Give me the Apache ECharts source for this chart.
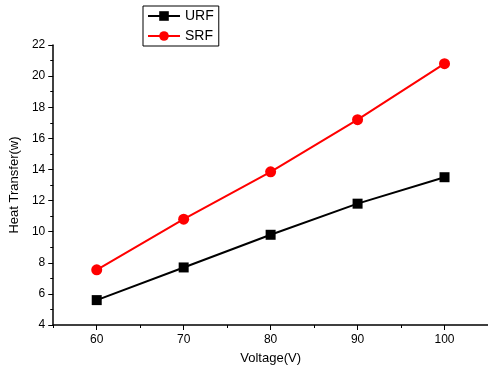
<!DOCTYPE html>
<html>
<head>
<meta charset="utf-8">
<script src="https://cdn.jsdelivr.net/npm/echarts@6/dist/echarts.min.js"></script>
<style>
html, body { margin: 0; padding: 0; background: #fff; }
#chart { width: 488px; height: 376px; }
</style>
</head>
<body>
<div id="chart"></div>
<script>
// data
var voltage = [60, 70, 80, 90, 100];
var urf = [5.6, 7.7, 9.8, 11.8, 13.5];
var srf = [7.55, 10.8, 13.85, 17.2, 20.8];
var xMajor = [60, 70, 80, 90, 100];
var xMinor = [55, 65, 75, 85, 95, 105];

function pairs(xs, ys) {
    var list = [];
    for (var i = 0; i < xs.length; i++) {
        list.push([xs[i], ys[i]]);
    }
    return list;
}

var myChart = echarts.init(document.getElementById('chart'));
var font = 'Liberation Sans, Arial, sans-serif';

var option = {
    animation: false,
    backgroundColor: '#fff',
    textStyle: { fontFamily: font },
    grid: { left: 53, right: 0, top: 45, bottom: 51 },
    legend: {
        left: 143,
        top: 6,
        orient: 'vertical',
        borderColor: '#000',
        borderWidth: 1,
        padding: [3, 5, 3, 4],
        itemGap: 6,
        itemWidth: 32,
        itemHeight: 12,
        textStyle: { color: '#000', fontSize: 14, fontFamily: font },
        data: ['URF', 'SRF']
    },
    xAxis: [{
        type: 'value',
        min: 55,
        max: 105,
        interval: 5,
        name: 'Voltage(V)',
        nameLocation: 'middle',
        nameGap: 27,
        nameTextStyle: { color: '#000', fontSize: 13 },
        axisLine: { lineStyle: { color: '#000', width: 1.5 } },
        axisTick: { show: true, length: 5, customValues: xMajor, lineStyle: { color: '#000' } },
        axisLabel: { color: '#000', fontSize: 12, margin: 9, customValues: xMajor },
        splitLine: { show: false }
    }, {
        type: 'value',
        position: 'bottom',
        min: 55,
        max: 105,
        interval: 5,
        axisLine: { show: false },
        axisTick: { show: true, length: 3, customValues: xMinor, lineStyle: { color: '#000' } },
        axisLabel: { show: false },
        splitLine: { show: false }
    }],
    yAxis: {
        type: 'value',
        min: 4,
        max: 22,
        interval: 2,
        name: 'Heat Transfer(w)',
        nameLocation: 'middle',
        nameGap: 32,
        nameTextStyle: { color: '#000', fontSize: 13 },
        axisLine: { show: true, lineStyle: { color: '#000', width: 1.5 } },
        axisTick: { show: true, length: 5, lineStyle: { color: '#000' } },
        minorTick: { show: true, splitNumber: 2, length: 3, lineStyle: { color: '#000' } },
        axisLabel: { color: '#000', fontSize: 12, margin: 8 },
        splitLine: { show: false }
    },
    series: [{
        name: 'URF',
        type: 'line',
        data: pairs(voltage, urf),
        symbol: 'rect',
        symbolSize: 10,
        color: '#000',
        lineStyle: { color: '#000', width: 2 },
        itemStyle: { color: '#000' }
    }, {
        name: 'SRF',
        type: 'line',
        data: pairs(voltage, srf),
        symbol: 'circle',
        symbolSize: 11,
        color: '#ff0000',
        lineStyle: { color: '#ff0000', width: 2 },
        itemStyle: { color: '#ff0000' }
    }]
};

myChart.setOption(option);
</script>
</body>
</html>
